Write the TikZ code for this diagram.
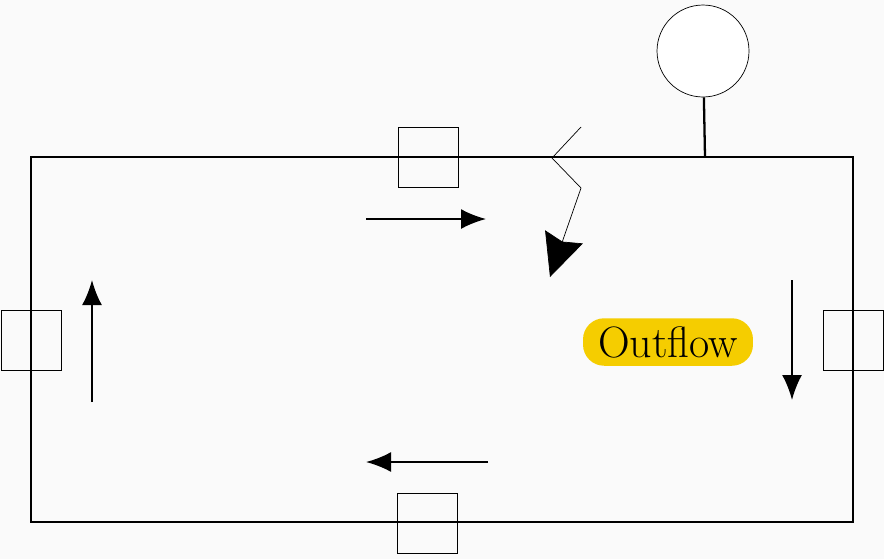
\documentclass[tikz,border=0pt]{standalone}
\usetikzlibrary{arrows.meta}
\tikzset{
    port/.style={draw,thin,minimum width=1.2cm,minimum height=1.2cm,inner sep=0pt},
    flow/.style={line width=1.2pt,-{Latex[length=5mm,width=4mm]}},
}
\begin{document}
\begin{tikzpicture}[x=0.02cm,y=-0.02cm]
\fill[black!2] (0,0) rectangle (884,559);
\useasboundingbox (0,0) rectangle (884,559);

\draw[line width=1.3pt] (31,157) rectangle (853,522);

\begin{scope}[every node/.style={port}]
    \node (top) at (428,157) {};
    \node (left) at (31,340) {};
    \node (right) at (853,340) {};
    \node (bottom) at (427,523) {};
\end{scope}

\node[circle,draw,thin,fill=white,minimum size=1.84cm] (gauge) at (703,51) {};
\coordinate (tap) at (705,157);
\draw[line width=1.3pt] (gauge) -- (tap);

\coordinate (f1) at (366,219); \coordinate (f2) at (486,219);
\coordinate (f3) at (792,280); \coordinate (f4) at (792,400);
\coordinate (f5) at (488,462); \coordinate (f6) at (366,462);
\coordinate (f7) at (92,402);  \coordinate (f8) at (92,280);
\draw[flow] (f1) -- (f2);
\draw[flow] (f3) -- (f4);
\draw[flow] (f5) -- (f6);
\draw[flow] (f7) -- (f8);

\coordinate (z1) at (581,127); \coordinate (z2) at (552,158);
\coordinate (z3) at (581,188); \coordinate (z4) at (550,277);
\draw[thin,-{Stealth[length=8.5mm,width=8mm,inset=1mm]}] (z1) -- (z2) -- (z3) -- (z4);

\node[fill={rgb,255:red,245;green,205;blue,0},rounded corners=12pt,minimum width=3.4cm,minimum height=0.95cm,inner sep=2pt,font=\fontsize{25}{28}\selectfont] (out) at (668,342) {Outflow};
\end{tikzpicture}
\end{document}
